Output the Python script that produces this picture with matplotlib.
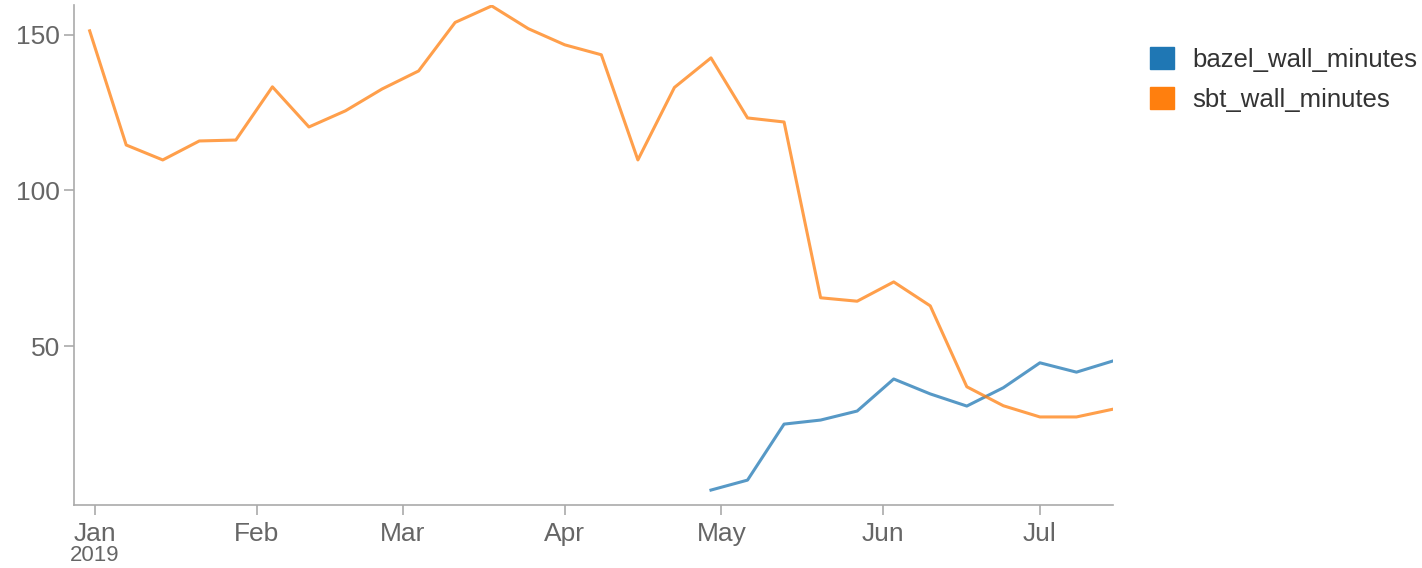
import matplotlib.pyplot as plt
import matplotlib.dates as mdates
from matplotlib.patches import Patch
import pandas as pd

plt.rcParams['font.family'] = ['Liberation Sans', 'DejaVu Sans']

weeks = pd.date_range('2018-12-31', '2019-07-15', freq='7D')
sbt_wall_minutes = [151.3, 114.6, 109.8, 115.9, 116.2, 133.3, 120.4, 125.6, 132.6, 138.4,
                    154.0, 159.3, 152.0, 146.8, 143.6, 109.8, 133.1, 142.6, 123.3, 122.0,
                    65.5, 64.4, 70.6, 62.9, 36.9, 30.8, 27.2, 27.2, 29.7]
bazel_weeks = weeks[17:]
bazel_wall_minutes = [3.7, 6.9, 24.9, 26.2, 29.1, 39.4, 34.6, 30.7, 36.6, 44.6, 41.6, 45.2]

blue = '#1f77b4'
orange = '#ff7f0e'

fig = plt.figure(figsize=(14.22, 5.68), dpi=100)
ax = fig.add_axes([74/1422, 1 - 505/568, (1113 - 74)/1422, 500/568])

ax.plot(bazel_weeks, bazel_wall_minutes, color=blue, lw=2.2, alpha=0.75)
ax.plot(weeks, sbt_wall_minutes, color=orange, lw=2.2, alpha=0.75)

ax.set_xlim(weeks[0] - pd.Timedelta(days=3.0), weeks[-1])
ax.set_ylim(-1.1, 159.6)
ax.set_yticks([50, 100, 150])

ax.xaxis.set_major_locator(mdates.MonthLocator())
ax.xaxis.set_major_formatter(mdates.DateFormatter('%b'))

for side in ['top', 'right']:
    ax.spines[side].set_visible(False)
for side in ['left', 'bottom']:
    ax.spines[side].set_color('#aaaaaa')
    ax.spines[side].set_linewidth(1.2)
ax.tick_params(axis='both', colors='#aaaaaa', labelcolor='#666666', labelsize=19,
               length=7, width=1.2)
ax.tick_params(axis='y', pad=3)
ax.tick_params(axis='x', pad=5)

ax.text(pd.Timestamp('2019-01-01'), -0.08, '2019', transform=ax.get_xaxis_transform(),
        ha='center', va='top', fontsize=16, color='#666666')

handles = [Patch(color=blue, label='bazel_wall_minutes'),
           Patch(color=orange, label='sbt_wall_minutes')]
fig.legend(handles=handles, loc='upper left', bbox_to_anchor=(1150/1422, 1 - 47/568),
           frameon=False, fontsize=18.5, handlelength=0.93, handleheight=0.93,
           handletextpad=0.7, labelspacing=0.6, labelcolor='#333333',
           borderpad=0, borderaxespad=0)

fig.savefig('out.png', dpi=100)
